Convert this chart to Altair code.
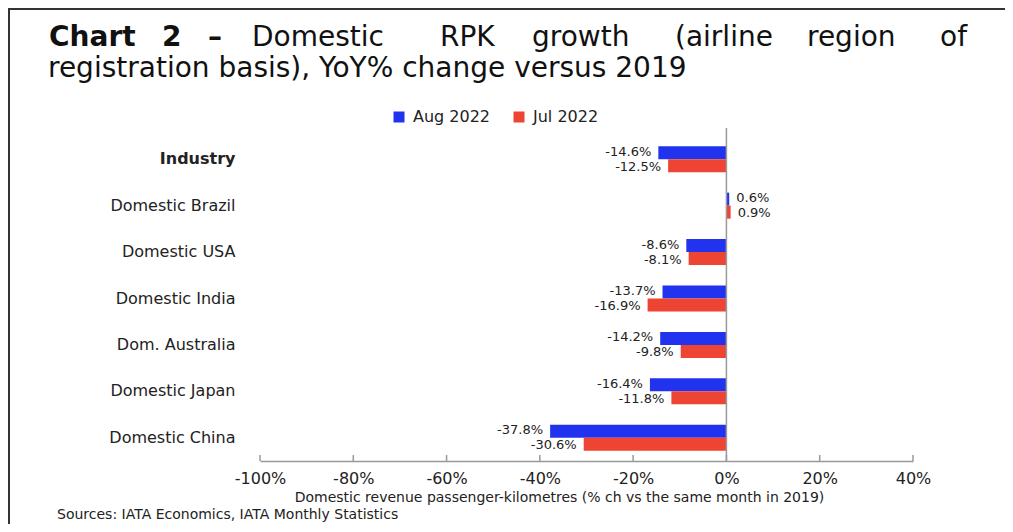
import altair as alt
import pandas as pd

categories = ["Industry", "Domestic Brazil", "Domestic USA", "Domestic India",
              "Dom. Australia", "Domestic Japan", "Domestic China"]
aug_2022 = [-14.6, 0.6, -8.6, -13.7, -14.2, -16.4, -37.8]
jul_2022 = [-12.5, 0.9, -8.1, -16.9, -9.8, -11.8, -30.6]
series_names = ["Aug 2022", "Jul 2022"]
x_ticks = [-100, -80, -60, -40, -20, 0, 20, 40]

rows = []
for c, a, j in zip(categories, aug_2022, jul_2022):
    rows.append({"cat": c, "series": series_names[0], "value": a})
    rows.append({"cat": c, "series": series_names[1], "value": j})
df = pd.DataFrame(rows)
df["label"] = df["value"].map(lambda v: f"{v:.1f}%")

W, H = 653, 325
PL, PT, PR, PB = 252, 128, 92, 63
FONT = "DejaVu Sans"
TXT = "#222222"
BLUE = "#2233F0"
RED = "#EE4433"

x_enc = alt.X(
    "value:Q",
    scale=alt.Scale(domain=[-100, 40], nice=False, zero=False),
    axis=alt.Axis(
        values=x_ticks, labelExpr="datum.value + '%'", grid=False,
        ticks=False, tickSize=0, domain=True, domainColor="#999999",
        domainWidth=1.5, labelFontSize=16, labelColor=TXT, labelPadding=17,
        labelBaseline="middle", labelFlush=False,
        title="Domestic revenue passenger-kilometres (% ch vs the same month in 2019)",
        titleFontSize=14, titleFontWeight="normal", titleColor=TXT,
        titleX=299, titleY=36, titleBaseline="middle", titleAlign="center",
    ),
)
y_enc = alt.Y(
    "cat:N", sort=categories,
    scale=alt.Scale(paddingInner=0.44, paddingOuter=0.22),
    axis=alt.Axis(
        title=None, ticks=False, domain=False, labelFontSize=16,
        labelColor=TXT, labelPadding=25, labelLimit=300,
        labelFontWeight=alt.expr("datum.value == 'Industry' ? 'bold' : 'normal'"),
    ),
)
yoff = alt.YOffset("series:N", sort=series_names,
                   scale=alt.Scale(paddingInner=0, paddingOuter=0))
color = alt.Color(
    "series:N", sort=series_names,
    scale=alt.Scale(domain=series_names, range=[BLUE, RED]),
    legend=alt.Legend(
        orient="none", legendX=131, legendY=-27, direction="horizontal",
        title=None, symbolType="square", symbolSize=121, symbolStrokeWidth=0,
        labelFontSize=16, labelColor=TXT, columnPadding=20, labelOffset=6,
    ),
)

base = alt.Chart(df)
bars = base.mark_bar().encode(x=x_enc, y=y_enc, yOffset=yoff, color=color)

label_layers = []
for s, dy in zip(series_names, [-1, 1]):
    for cond, al, dx in [("datum.value < 0", "right", -7), ("datum.value >= 0", "left", 7)]:
        label_layers.append(
            base.transform_filter(f"datum.series == '{s}' && {cond}").mark_text(
                align=al, dx=dx, dy=dy, baseline="middle", fontSize=13, color=TXT
            ).encode(x="value:Q", y=alt.Y("cat:N", sort=categories),
                     yOffset=yoff, text="label:N")
        )

zero = alt.Chart(pd.DataFrame({"z": [0]})).mark_rule(
    color="#999999", strokeWidth=1.5
).encode(x="z:Q", y=alt.value(-8), y2=alt.value(H))

ticks = alt.Chart(pd.DataFrame({"t": x_ticks})).mark_rule(
    color="#999999", strokeWidth=1.5
).encode(x="t:Q", y=alt.value(H - 6), y2=alt.value(H))

one = pd.DataFrame({"a": [1]})
frame_top = alt.Chart(one).mark_rule(color="#333333", strokeWidth=2).encode(
    x=alt.value(-PL), x2=alt.value(W + PR), y=alt.value(-PT + 1))
frame_left = alt.Chart(one).mark_rule(color="#333333", strokeWidth=2).encode(
    x=alt.value(-PL + 1), y=alt.value(-PT), y2=alt.value(H + PB))

# title, line 1 spread across the width (justified), line 2 normal
title_words = [("Chart", 49, "bold", "left"), ("2", 162, "bold", "left"),
               ("\u2013", 208, "bold", "left"), ("Domestic", 252, "normal", "left"),
               ("RPK", 440, "normal", "left"), ("growth", 532, "normal", "left"),
               ("(airline", 675, "normal", "left"), ("region", 807, "normal", "left"),
               ("of", 967, "normal", "right")]
title_layers = []
for w, px, fw, al in title_words:
    title_layers.append(
        alt.Chart(one).mark_text(text=w, fontSize=28, fontWeight=fw, align=al,
                                 baseline="alphabetic", color="#111111")
        .encode(x=alt.value(px - 260), y=alt.value(46 - 136))
    )
title_layers.append(
    alt.Chart(one).mark_text(text="registration basis), YoY% change versus 2019",
                             fontSize=28, align="left", baseline="alphabetic",
                             color="#111111")
    .encode(x=alt.value(48 - 260), y=alt.value(77 - 136))
)
source = alt.Chart(one).mark_text(
    text="Sources: IATA Economics, IATA Monthly Statistics", fontSize=14,
    align="left", baseline="alphabetic", color=TXT
).encode(x=alt.value(57 - 260), y=alt.value(519 - 136))

chart = alt.layer(
    bars, *label_layers, zero, ticks, frame_top, frame_left, source, *title_layers
).properties(
    width=W, height=H,
    padding={"left": PL, "top": PT, "right": PR, "bottom": PB},
    autosize=alt.AutoSizeParams(type="none"),
).configure(font=FONT).configure_view(stroke=None)

chart.save("out.html", embed_options={"renderer": "svg", "actions": False})
